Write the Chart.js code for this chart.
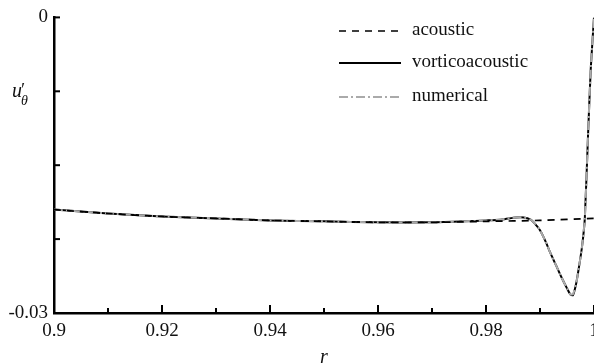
<!DOCTYPE html>
<html>
<head>
<meta charset="utf-8">
<script src="https://cdn.jsdelivr.net/npm/chart.js@4"></script>
<style>
  html, body { margin: 0; padding: 0; background: #fff; }
  #wrap { width: 594px; height: 364px; position: relative; }
</style>
</head>
<body>
<div id="wrap"><canvas id="chart"></canvas></div>
<script>
// acoustic solution (dashed)
const acousticR = [0.9, 0.91, 0.92, 0.93, 0.94, 0.95, 0.96, 0.97, 0.98, 0.99, 1.0];
const acousticU = [-0.0195, -0.0199, -0.0202, -0.0204, -0.0206, -0.0207, -0.0208, -0.0208, -0.0207, -0.0206, -0.0204];

// vorticoacoustic solution (solid)
const vortR = [0.9, 0.91, 0.92, 0.93, 0.94, 0.95, 0.96, 0.97, 0.976, 0.98, 0.983, 0.9855, 0.987, 0.9882, 0.989, 0.990, 0.991, 0.992, 0.993, 0.994, 0.995, 0.9956, 0.9961, 0.9967, 0.9972, 0.9978, 0.9983, 0.9989, 0.9994, 1.0];
const vortU = [-0.0195, -0.0199, -0.0202, -0.0204, -0.0206, -0.0207, -0.0208, -0.0208, -0.0207, -0.0206, -0.0205, -0.0203, -0.0203, -0.0205, -0.0209, -0.0216, -0.0227, -0.0240, -0.0252, -0.0264, -0.0275, -0.0281, -0.0282, -0.0270, -0.0254, -0.0232, -0.0204, -0.0119, -0.0052, 0.0];

// numerical solution (grey dash-dot), lies on the vorticoacoustic curve
const numR = vortR.slice();
const numU = [-0.0195, -0.0199, -0.0202, -0.0204, -0.0206, -0.0207, -0.0208, -0.0208, -0.0207, -0.0206, -0.0205, -0.0203, -0.0203, -0.0205, -0.0209, -0.0216, -0.0227, -0.0240, -0.0252, -0.0264, -0.0275, -0.0281, -0.0281, -0.0270, -0.0254, -0.0232, -0.0204, -0.0119, -0.0052, 0.0];

const xTicks = [0.9, 0.91, 0.92, 0.93, 0.94, 0.95, 0.96, 0.97, 0.98, 0.99, 1.0];
const xTickLabels = ['0.9', '', '0.92', '', '0.94', '', '0.96', '', '0.98', '', '1'];
const yTicks = [-0.03, -0.0225, -0.015, -0.0075, 0];
const yTickLabels = ['-0.03', '', '', '', '0'];

const SERIF = '"Liberation Serif", "Times New Roman", serif';

function pts(xs, ys) {
  return xs.map(function(x, i) { return { x: x, y: ys[i] }; });
}

// inward tick marks, drawn at the scale's own tick positions
const tickMarks = {
  id: 'tickMarks',
  afterDraw: function(chart) {
    const ctx = chart.ctx;
    const xs = chart.scales.x, ys = chart.scales.y;
    const area = chart.chartArea;
    ctx.save();
    ctx.strokeStyle = '#000';
    ctx.lineWidth = 2;
    xs.ticks.forEach(function(t, i) {
      const px = xs.getPixelForTick(i);
      const len = xTickLabels[i] ? 8 : 5;
      ctx.beginPath();
      ctx.moveTo(px, area.bottom);
      ctx.lineTo(px, area.bottom - len);
      ctx.stroke();
    });
    ys.ticks.forEach(function(t, i) {
      const py = ys.getPixelForTick(i);
      ctx.beginPath();
      ctx.moveTo(area.left, py);
      ctx.lineTo(area.left + 6, py);
      ctx.stroke();
    });
    ctx.restore();
  }
};

// legend in the upper right, plus the y axis title with its subscript
const legendAndTitle = {
  id: 'legendAndTitle',
  afterDraw: function(chart) {
    const ctx = chart.ctx;
    ctx.save();
    const rows = [31, 63, 97];
    chart.data.datasets.forEach(function(ds, i) {
      const y = rows[i];
      ctx.strokeStyle = ds.borderColor;
      ctx.lineWidth = ds.borderWidth;
      ctx.setLineDash(ds.borderDash || []);
      ctx.beginPath();
      ctx.moveTo(339, y);
      ctx.lineTo(401, y);
      ctx.stroke();
      ctx.setLineDash([]);
      ctx.fillStyle = '#111';
      ctx.font = '19px ' + SERIF;
      ctx.textBaseline = 'middle';
      ctx.textAlign = 'left';
      ctx.fillText(ds.label, 412, y - 1);
    });

    ctx.fillStyle = '#111';
    ctx.textBaseline = 'alphabetic';
    ctx.font = 'italic 20px ' + SERIF;
    ctx.fillText('u', 12, 97);
    ctx.font = 'italic 18px ' + SERIF;
    ctx.fillText('\u2032', 20, 96);
    ctx.font = 'italic 14px ' + SERIF;
    ctx.fillText('\u03B8', 21, 105);
    ctx.restore();
  }
};

new Chart(document.getElementById('chart'), {
  type: 'line',
  data: {
    datasets: [
      {
        label: 'acoustic',
        data: pts(acousticR, acousticU),
        borderColor: '#000',
        borderWidth: 1.7,
        borderDash: [7, 6],
        pointRadius: 0,
        tension: 0.3,
        fill: false,
        order: 0
      },
      {
        label: 'vorticoacoustic',
        data: pts(vortR, vortU),
        borderColor: '#000',
        borderWidth: 2,
        pointRadius: 0,
        tension: 0.2,
        fill: false,
        order: 2
      },
      {
        label: 'numerical',
        data: pts(numR, numU),
        borderColor: '#aaa',
        borderWidth: 2,
        borderDash: [9, 3, 2, 3],
        pointRadius: 0,
        tension: 0.2,
        fill: false,
        order: 1
      }
    ]
  },
  options: {
    responsive: true,
    maintainAspectRatio: false,
    animation: false,
    layout: { padding: { top: 15, right: 0, left: 0, bottom: 0 } },
    plugins: { legend: { display: false }, tooltip: { enabled: false } },
    scales: {
      x: {
        type: 'linear',
        min: 0.9,
        max: 1.0,
        afterBuildTicks: function(scale) {
          scale.ticks = xTicks.map(function(v) { return { value: v }; });
        },
        afterFit: function(scale) {
          scale.height = 51;
          scale.paddingLeft = 0;
          scale.paddingRight = 0;
        },
        grid: { display: false, drawTicks: false },
        border: { display: true, color: '#000', width: 2.5 },
        ticks: {
          autoSkip: false,
          maxRotation: 0,
          padding: 7,
          color: '#111',
          font: { family: SERIF, size: 19 },
          callback: function(v, i) { return xTickLabels[i]; }
        },
        title: {
          display: true,
          text: 'r',
          color: '#111',
          font: { family: SERIF, size: 20, style: 'italic' },
          padding: { top: 0, bottom: -6 }
        }
      },
      y: {
        type: 'linear',
        min: -0.03,
        max: 0,
        afterBuildTicks: function(scale) {
          scale.ticks = yTicks.map(function(v) { return { value: v }; });
        },
        afterFit: function(scale) {
          scale.width = 54;
        },
        grid: { display: false, drawTicks: false },
        border: { display: true, color: '#000', width: 2.5 },
        ticks: {
          autoSkip: false,
          padding: 6,
          color: '#111',
          font: { family: SERIF, size: 19 },
          callback: function(v, i) { return yTickLabels[i]; }
        }
      }
    }
  },
  plugins: [tickMarks, legendAndTitle]
});
</script>
</body>
</html>
